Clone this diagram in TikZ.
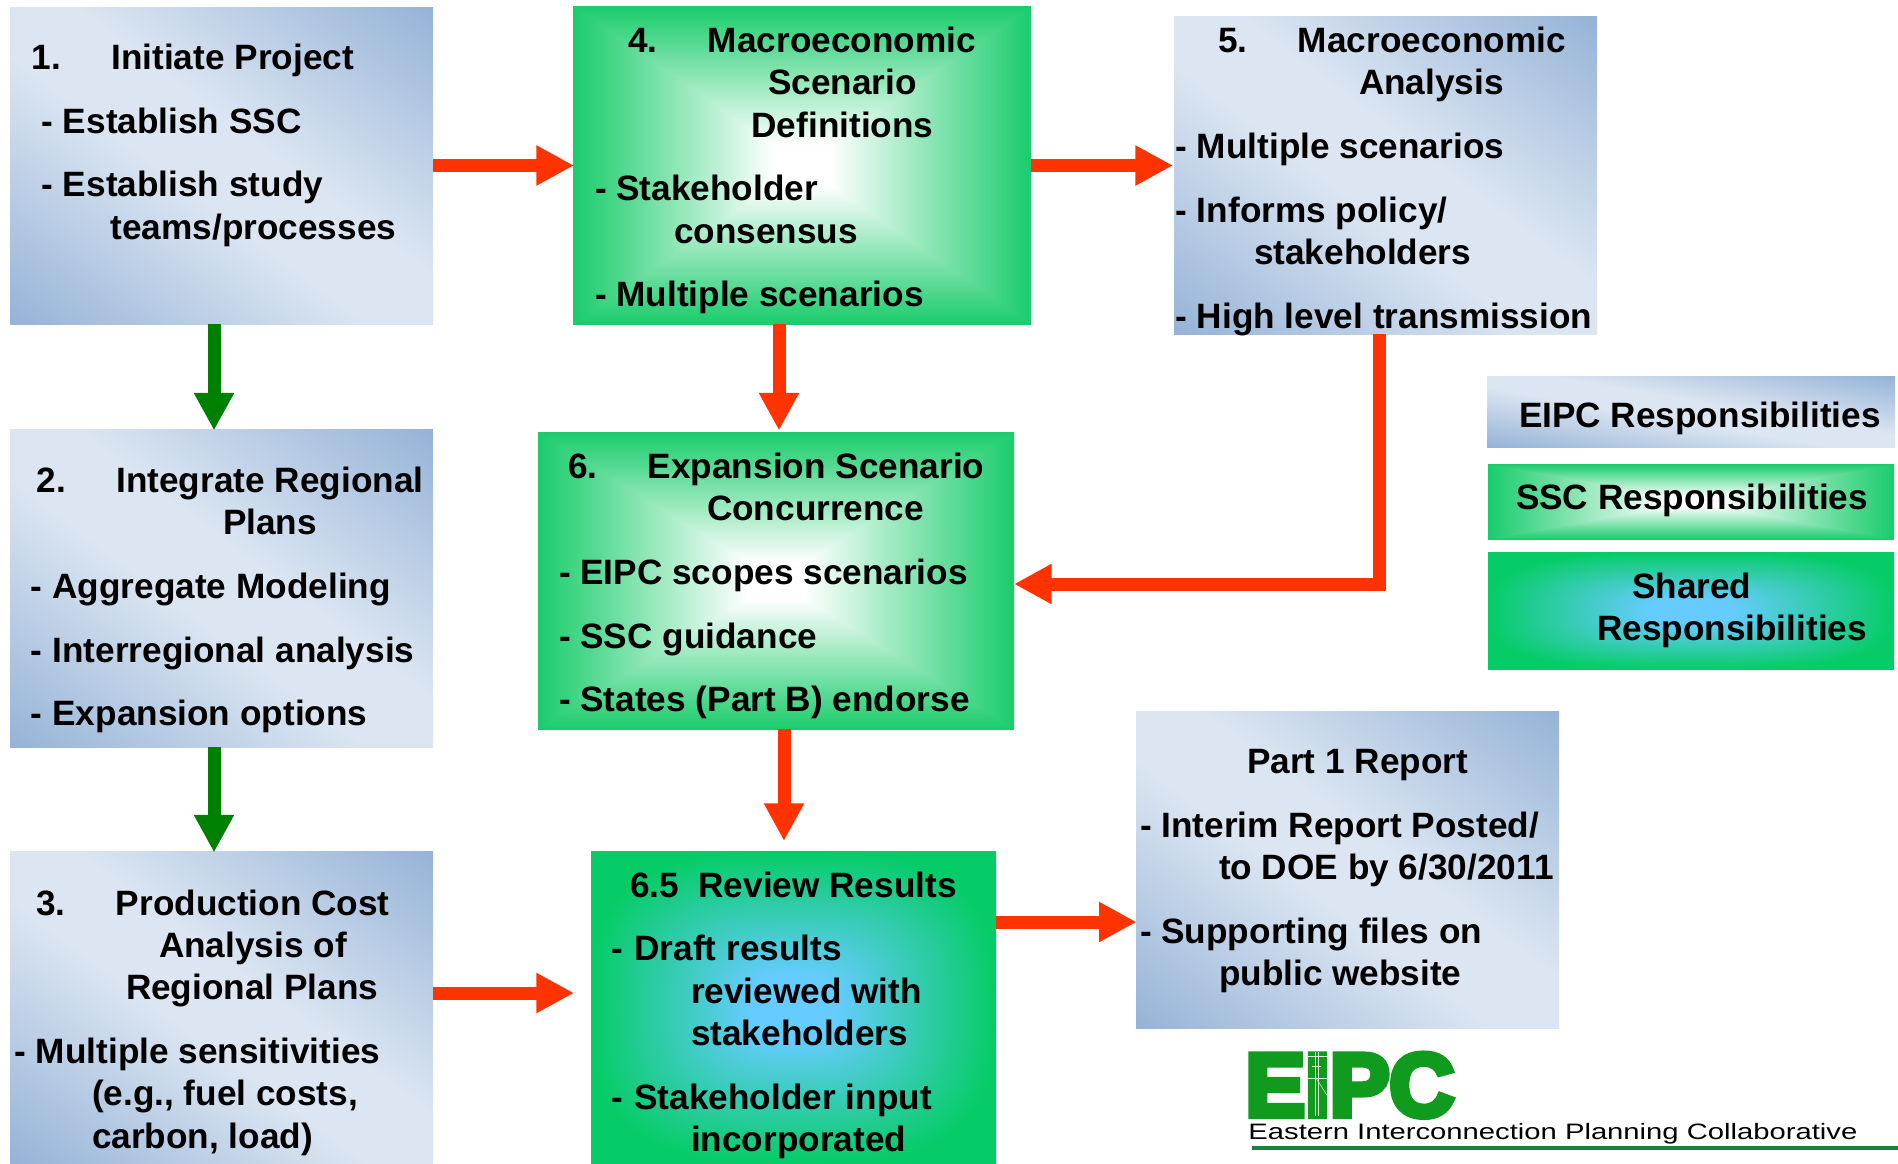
\documentclass[tikz,border=0pt]{standalone}
\usepackage{fontspec}
\setmainfont{Liberation Sans}
\newfontfamily\logofont[FakeBold=7]{Liberation Sans}
\newfontfamily\capfont[FakeStretch=1.31]{Liberation Sans}
\usetikzlibrary{arrows.meta}
\newdimen\pxu \pxu=0.5pt
\pgfdeclarefunctionalshading{bluediag}{\pgfpoint{0bp}{0bp}}{\pgfpoint{100bp}{100bp}}{}{
 add 100 sub abs 50 div 0.15 sub 0 2 copy gt {pop} {exch pop} ifelse 0.85 div
 dup -0.279 mul 0.863 add exch dup -0.200 mul 0.902 add exch -0.106 mul 0.949 add }
\pgfdeclarefunctionalshading{greenrect}{\pgfpoint{0bp}{0bp}}{\pgfpoint{100bp}{100bp}}{}{
 50 sub abs 25 div exch 50 sub abs 25 div 2 copy gt {pop} {exch pop} ifelse
 0.12 sub 0 2 copy gt {pop} {exch pop} ifelse 0.88 div
 dup -0.90 mul 1.0 add exch dup -0.20 mul 1.0 add exch -0.58 mul 1.0 add }
\pgfdeclarefunctionalshading{sharedrect}{\pgfpoint{0bp}{0bp}}{\pgfpoint{100bp}{100bp}}{}{
 50 sub abs 25 div 3 exp exch 50 sub abs 25 div 3 exp add 0.3333 exp
 dup 1 gt {pop 1} if
 0.2 sub 0 2 copy gt {pop} {exch pop} ifelse 0.8 div
 dup -0.38 mul 0.40 add exch dup 0.0 mul 0.80 add exch -0.60 mul 1.0 add }
\definecolor{redarrowc}{HTML}{FF3300}
\definecolor{greenarrowc}{HTML}{008000}
\definecolor{logogreen}{HTML}{109A1E}
\definecolor{logoline}{HTML}{1F7F3F}
\tikzset{
 blueshade/.style={shade,shading=bluediag,inner sep=0pt,outer sep=0pt},
 greenshade/.style={shade,shading=greenrect,inner sep=0pt,outer sep=0pt},
 sharedshade/.style={shade,shading=sharedrect,inner sep=0pt,outer sep=0pt},
 txt/.style={anchor=north west,inner sep=0pt,outer sep=0pt,align=left,font=\fontsize{17.6pt}{21.2pt}\selectfont\bfseries},
 redarrow/.style={draw=redarrowc,line width=6.5pt,-{Triangle[length=18.8pt,width=18.8pt,fill=redarrowc]}},
 greenarrow/.style={draw=greenarrowc,line width=6.5pt,-{Triangle[length=18.8pt,width=18.8pt,fill=greenarrowc]}},
 poleline/.style={draw=white!85!logogreen,line width=0.5pt},
}
\newcommand{\bx}[6]{\node[#2,minimum width={(#5-#3)*0.5pt},minimum height={(#6-#4)*0.5pt}] (#1) at ({(#3+#5)/2},{(#4+#6)/2}) {};}
% x of left of text block, y of first baseline
\newcommand{\tb}[4]{\node[txt] (#1) at (#2,{#3-29.7}) {\strut #4};}
\newcommand{\ind}[1]{\hspace*{#1\pxu}}
\newcommand{\gapl}{\\[10.6pt]}
\begin{document}
\begin{tikzpicture}[x=0.5pt,y=-0.5pt]
\useasboundingbox (0,0) rectangle (1898,1163);
\fill[white] (0,0) rectangle (1898,1163);
% boxes
\bx{b1}{blueshade}{10}{7}{433}{324}
\bx{b2}{blueshade}{10}{429}{433}{747}
\bx{b3}{blueshade}{10}{851}{433}{1163}
\bx{b4}{greenshade}{573}{6}{1031}{324}
\bx{b5}{blueshade}{1174}{16}{1597}{334}
\bx{b6}{greenshade}{538}{432}{1014}{729}
\bx{b65}{sharedshade}{591}{851}{996}{1163}
\bx{b7}{blueshade}{1136}{711}{1559}{1028}
\bx{l1}{blueshade}{1487}{376}{1895}{447}
\bx{l2}{greenshade}{1488}{464}{1894}{539}
\bx{l3}{sharedshade}{1488}{552}{1894}{669}
% connector levels
\coordinate (ya) at (0,165.5);
\coordinate (yb) at (0,993);
\coordinate (yc) at (0,922);
\coordinate (yd) at (0,584);
\coordinate (xa) at (214,0);
\coordinate (xb) at (779,0);
\coordinate (xc) at (784,0);
\coordinate (xd) at (1379,0);
\coordinate (elbow) at (xd |- yd);
\draw[redarrow,shorten >=-0.5pt] (b1.east |- ya) -- (b4.west |- ya);
\draw[redarrow,shorten >=0.5pt] (b4.east |- ya) -- (b5.west |- ya);
\draw[greenarrow,shorten >=-0.75pt] (b1.south -| xa) -- (b2.north -| xa);
\draw[greenarrow,shorten >=-0.75pt] (b2.south -| xa) -- (b3.north -| xa);
\draw[redarrow,shorten >=0.75pt] (b4.south -| xb) -- (b6.north -| xb);
\draw[redarrow,shorten >=5pt] (b6.south -| xc) -- (b65.north -| xc);
\draw[redarrow,shorten >=8.5pt] (b3.east |- yb) -- (b65.west |- yb);
\draw[redarrow,shorten >=-0.3pt] (b65.east |- yc) -- (b7.west |- yc);
\draw[redarrow,line join=miter] (b5.south -| elbow) -- (elbow) -- (b6.east |- elbow);
% text
\tb{t1a}{32}{69.5}{1.\ind{50}Initiate Project\gapl\ind{9.5}- Establish SSC\gapl\ind{9.5}- Establish study\\\ind{78.5}teams/processes}
\tb{t4}{595}{52.5}{\ind{33}4.\ind{50.5}Macroeconomic\\\ind{173}Scenario\\\ind{156.5}Definitions\gapl - Stakeholder\\\ind{79}consensus\gapl - Multiple scenarios}
\tb{t5}{1175.5}{52.5}{\ind{42.5}5.\ind{50.5}Macroeconomic\\\ind{183.5}Analysis\gapl - Multiple scenarios\gapl - Informs policy/\\\ind{78.5}stakeholders\gapl - High level transmission}
\tb{t2}{31}{492.6}{\ind{5.5}2.\ind{50.5}Integrate Regional\\\ind{192}Plans\gapl - Aggregate Modeling\gapl - Interregional analysis\gapl - Expansion options}
\tb{t3}{14.5}{915}{\ind{21.5}3.\ind{50.5}Production Cost\\\ind{144.5}Analysis of\\\ind{111.5}Regional Plans\gapl - Multiple sensitivities\\\ind{77.5}(e.g., fuel costs,\\\ind{77.5}carbon, load)}
\tb{t6}{559}{478.5}{\ind{9}6.\ind{50.5}Expansion Scenario\\\ind{148}Concurrence\gapl - EIPC scopes scenarios\gapl - SSC guidance\gapl - States (Part B) endorse}
\tb{t65}{611}{897}{\ind{19}6.5\ \ Review Results\gapl -\ \ind{2}Draft results\\\ind{80}reviewed with\\\ind{80}stakeholders\gapl -\ \ind{2}Stakeholder input\\\ind{80}incorporated}
\tb{t7}{1140}{773.5}{\ind{107}Part 1 Report\gapl - Interim Report Posted/\\\ind{79}to DOE by 6/30/2011\gapl - Supporting files on\\\ind{79}public website}
\tb{tl1}{1519}{428}{EIPC Responsibilities}
\tb{tl2}{1516}{509.5}{SSC Responsibilities}
\tb{tl3}{1597}{598.5}{\ind{35}Shared\\Responsibilities}
% logo
\node[anchor=base west,inner sep=0pt,text=logogreen,font=\fontsize{44.7pt}{47pt}\logofont\bfseries] (logo) at (1245,1116) {EIPC};
\draw[poleline] (1315,1052) -- (1315,1116);
\draw[poleline] (1318,1052) -- (1318,1116);
\draw[poleline] (1305,1056) -- (1330,1056);
\draw[poleline] (1312,1066) -- (1321,1066);
\draw[poleline] (1308,1078) -- (1328,1078);
\draw[poleline,line width=0.25pt] (1316,1078) -- (1330,1100);
\node[anchor=base west,inner sep=0pt,font=\fontsize{11.15pt}{14pt}\capfont] (logotxt) at (1248,1139.5) {Eastern Interconnection Planning Collaborative};
\coordinate (lineend) at (1898,1148);
\coordinate (linestart) at (1252,1148);
\draw[logoline,line width=1.6pt] (linestart) -- (lineend);
\end{tikzpicture}
\end{document}
